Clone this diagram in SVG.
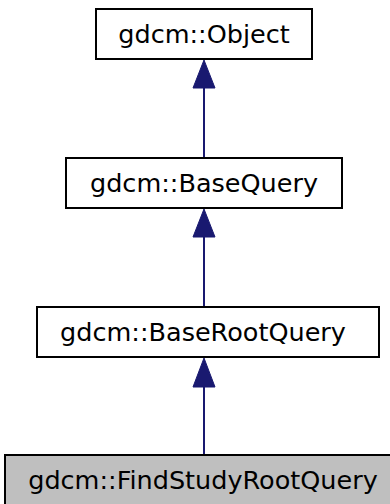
<svg xmlns="http://www.w3.org/2000/svg" width="390" height="504" viewBox="0 0 390 504">
<style>
.box{fill:#ffffff;stroke:#000000;stroke-width:2}
.cur{fill:#bfbfbf;stroke:#000000;stroke-width:2}
.lbl{font-family:"DejaVu Sans",sans-serif;font-size:25.5px;fill:#000000;text-anchor:middle}
.edge{stroke:#191970;stroke-width:2;fill:none}
.head{fill:#191970;stroke:#191970;stroke-width:1}
</style>
<rect width="390" height="504" fill="#ffffff"/>
<g id="connectors">
<line class="edge" x1="204" y1="88" x2="204" y2="157"/>
<polygon class="head" points="204,60 193,88 215,88"/>
<line class="edge" x1="204" y1="237" x2="204" y2="306"/>
<polygon class="head" points="204,209 193,237 215,237"/>
<line class="edge" x1="204" y1="387" x2="204" y2="454"/>
<polygon class="head" points="204,358 193,387 215,387"/>
</g>
<g id="node-object">
<rect class="box" x="96" y="9" width="216" height="50"/>
<text class="lbl" x="204" y="43">gdcm::Object</text>
</g>
<g id="node-basequery">
<rect class="box" x="66" y="158" width="276" height="50"/>
<text class="lbl" x="204" y="192">gdcm::BaseQuery</text>
</g>
<g id="node-baserootquery">
<rect class="box" x="37" y="307" width="342" height="50"/>
<text class="lbl" x="203" y="341">gdcm::BaseRootQuery</text>
</g>
<g id="node-findstudyrootquery">
<rect class="cur" x="5" y="455" width="400" height="52"/>
<text class="lbl" x="203" y="489">gdcm::FindStudyRootQuery</text>
</g>
</svg>
